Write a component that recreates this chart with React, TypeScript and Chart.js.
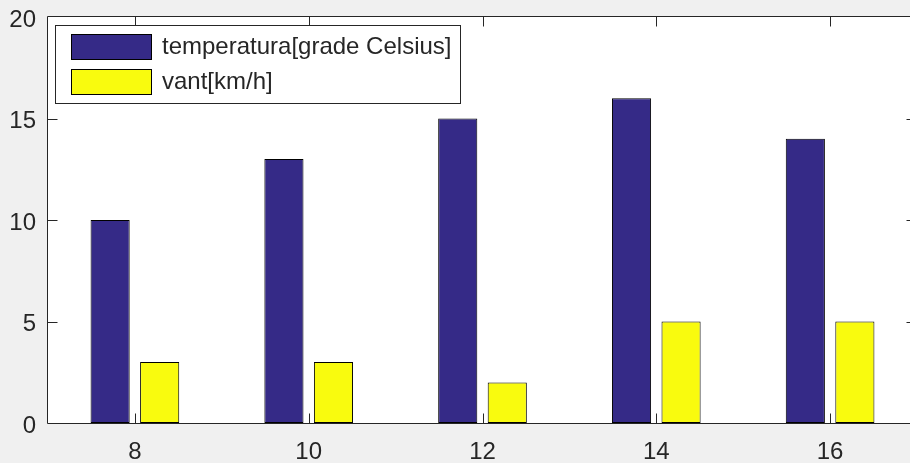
import React, { useEffect, useRef } from 'react';
import { Chart, registerables } from 'chart.js';

Chart.register(...registerables);

// Hourly readings
const hours = ['8', '10', '12', '14', '16'];
const temperature = [10, 13, 15, 16, 14];
const wind = [3, 3, 2, 5, 5];
const yTickValues = [5, 10, 15];
const seriesNames = ['temperatura[grade Celsius]', 'vant[km/h]'];
const seriesColors = ['#352a87', '#f9fb0e'];

const FONT = 'Arial, "Liberation Sans", Helvetica, sans-serif';
const AXIS_COLOR = '#262626';
const TICK_LEN = 10;

// White plot area behind the bars
const plotBackground = {
  id: 'plotBackground',
  beforeDatasetsDraw(chart: any) {
    const { ctx, chartArea } = chart;
    ctx.save();
    ctx.fillStyle = '#ffffff';
    ctx.fillRect(
      chartArea.left,
      chartArea.top,
      chartArea.right - chartArea.left,
      chartArea.bottom - chartArea.top
    );
    ctx.restore();
  },
};

// Box around the plot area with inward tick marks on all sides
const axesFrame = {
  id: 'axesFrame',
  afterDatasetsDraw(chart: any) {
    const { ctx, chartArea, scales } = chart;
    const { left, right, top, bottom } = chartArea;
    const L = Math.round(left) - 0.5;
    const R = Math.round(right) - 0.5;
    const T = Math.round(top) - 0.5;
    const B = Math.round(bottom) + 0.5;
    ctx.save();
    ctx.strokeStyle = AXIS_COLOR;
    ctx.lineWidth = 1;
    ctx.beginPath();
    ctx.moveTo(L, T);
    ctx.lineTo(R, T);
    ctx.lineTo(R, B);
    ctx.lineTo(L, B);
    ctx.closePath();
    hours.forEach((_, i) => {
      const px = Math.round(scales.x.getPixelForValue(i)) + 0.5;
      ctx.moveTo(px, B);
      ctx.lineTo(px, B - TICK_LEN);
      ctx.moveTo(px, T);
      ctx.lineTo(px, T + TICK_LEN);
    });
    yTickValues.forEach((v) => {
      const py = Math.round(scales.y.getPixelForValue(v)) + 0.5;
      ctx.moveTo(L, py);
      ctx.lineTo(L + TICK_LEN, py);
      ctx.moveTo(R, py);
      ctx.lineTo(R - TICK_LEN, py);
    });
    ctx.stroke();
    ctx.restore();
  },
};

// Legend box in the upper-left corner of the plot
const boxedLegend = {
  id: 'boxedLegend',
  afterDraw(chart: any) {
    const { ctx } = chart;
    ctx.save();
    ctx.fillStyle = '#ffffff';
    ctx.fillRect(55, 25, 405, 78);
    ctx.strokeStyle = AXIS_COLOR;
    ctx.lineWidth = 1;
    ctx.strokeRect(55.5, 25.5, 405, 78);
    const rows = [34, 69];
    seriesNames.forEach((name, i) => {
      const y = rows[i];
      ctx.fillStyle = seriesColors[i];
      ctx.fillRect(71, y, 81, 26);
      ctx.strokeStyle = '#000000';
      ctx.strokeRect(71.5, y + 0.5, 80, 25);
      ctx.fillStyle = AXIS_COLOR;
      ctx.font = `24px ${FONT}`;
      ctx.textAlign = 'left';
      ctx.textBaseline = 'middle';
      ctx.fillText(name, 162, y + 13.5);
    });
    ctx.restore();
  },
};

export default function App() {
  const canvasRef = useRef<HTMLCanvasElement | null>(null);

  useEffect(() => {
    const canvas = canvasRef.current;
    if (!canvas) return;
    const chart = new Chart(canvas, {
      type: 'bar',
      data: {
        labels: hours,
        datasets: [
          {
            label: seriesNames[0],
            data: temperature,
            backgroundColor: seriesColors[0],
            borderColor: '#000000',
            borderWidth: 1,
            borderSkipped: false,
            categoryPercentage: 0.57,
            barPercentage: 0.79,
          },
          {
            label: seriesNames[1],
            data: wind,
            backgroundColor: seriesColors[1],
            borderColor: '#000000',
            borderWidth: 1,
            borderSkipped: false,
            categoryPercentage: 0.57,
            barPercentage: 0.79,
          },
        ],
      },
      options: {
        responsive: false,
        animation: false,
        layout: { padding: { top: 17, right: 3, left: 0, bottom: 0 } },
        plugins: {
          legend: { display: false },
          tooltip: { enabled: false },
        },
        scales: {
          x: {
            type: 'category',
            offset: true,
            grid: { display: false, drawTicks: false },
            border: { display: false },
            ticks: {
              color: AXIS_COLOR,
              font: { family: FONT, size: 24 },
              padding: 15,
              maxRotation: 0,
            },
            afterFit(scale: any) {
              scale.height = 40;
              scale.paddingLeft = 0;
              scale.paddingRight = 0;
            },
          },
          y: {
            min: 0,
            max: 20,
            grid: { display: false, drawTicks: false },
            border: { display: false },
            ticks: {
              stepSize: 5,
              color: AXIS_COLOR,
              font: { family: FONT, size: 24 },
              padding: 12,
              labelOffset: 3,
            },
            afterFit(scale: any) {
              scale.width = 48;
              scale.paddingTop = 0;
              scale.paddingBottom = 0;
            },
          },
        },
      },
      plugins: [plotBackground, axesFrame, boxedLegend],
    });
    return () => chart.destroy();
  }, []);

  return (
    <div
      style={{
        position: 'fixed',
        left: 0,
        top: 0,
        width: 910,
        height: 463,
        overflow: 'hidden',
        background: '#f0f0f0',
      }}
    >
      <canvas
        ref={canvasRef}
        width={920}
        height={463}
        style={{ display: 'block', width: 920, height: 463 }}
      />
    </div>
  );
}
